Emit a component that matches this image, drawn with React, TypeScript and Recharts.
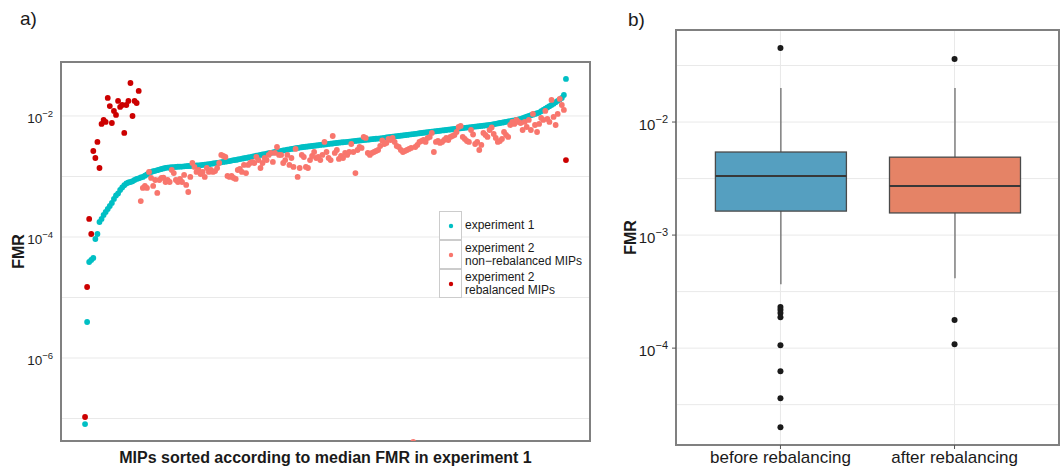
import React from 'react';
import {
  ScatterChart,
  Scatter,
  XAxis,
  YAxis,
  CartesianGrid,
  ReferenceArea,
  Legend,
  ComposedChart,
  Bar,
} from 'recharts';

const FONT = '"Liberation Sans", Arial, Helvetica, sans-serif';

// ---------------- Panel a data ----------------
// experiment 1, FMR per MIP, MIPs ranked 1..234
const exp1FMR = [
  8.1e-8, 3.94e-6, 3.86e-5, 4.17e-5, 4.5e-5, 9.27e-5, 1.12e-4, 1.77e-4, 1.99e-4, 2.31e-4,
  2.59e-4, 2.9e-4, 3.25e-4, 3.65e-4, 4.25e-4, 4.85e-4, 5.24e-4, 5.98e-4, 6.58e-4, 7.16e-4,
  7.66e-4, 7.96e-4, 8.11e-4, 8.34e-4, 8.75e-4, 9.1e-4, 9.33e-4, 9.62e-4, 9.82e-4, 1.03e-3,
  1.08e-3, 1.14e-3, 1.19e-3, 1.22e-3, 1.24e-3, 1.27e-3, 1.3e-3, 1.33e-3, 1.36e-3, 1.39e-3,
  1.4e-3, 1.41e-3, 1.42e-3, 1.43e-3, 1.44e-3, 1.45e-3, 1.45e-3, 1.46e-3, 1.47e-3, 1.48e-3,
  1.49e-3, 1.49e-3, 1.5e-3, 1.51e-3, 1.52e-3, 1.53e-3, 1.54e-3, 1.56e-3, 1.57e-3, 1.58e-3,
  1.6e-3, 1.62e-3, 1.64e-3, 1.66e-3, 1.68e-3, 1.7e-3, 1.72e-3, 1.74e-3, 1.76e-3, 1.78e-3,
  1.8e-3, 1.83e-3, 1.86e-3, 1.88e-3, 1.91e-3, 1.94e-3, 1.97e-3, 2.0e-3, 2.03e-3, 2.06e-3,
  2.09e-3, 2.13e-3, 2.16e-3, 2.2e-3, 2.24e-3, 2.27e-3, 2.31e-3, 2.35e-3, 2.39e-3, 2.43e-3,
  2.46e-3, 2.5e-3, 2.54e-3, 2.57e-3, 2.61e-3, 2.65e-3, 2.69e-3, 2.73e-3, 2.77e-3, 2.81e-3,
  2.85e-3, 2.89e-3, 2.93e-3, 2.97e-3, 3.01e-3, 3.04e-3, 3.07e-3, 3.1e-3, 3.13e-3, 3.16e-3,
  3.19e-3, 3.22e-3, 3.25e-3, 3.28e-3, 3.32e-3, 3.35e-3, 3.38e-3, 3.41e-3, 3.45e-3, 3.48e-3,
  3.51e-3, 3.55e-3, 3.58e-3, 3.62e-3, 3.65e-3, 3.68e-3, 3.71e-3, 3.74e-3, 3.77e-3, 3.8e-3,
  3.83e-3, 3.87e-3, 3.9e-3, 3.93e-3, 3.96e-3, 4.0e-3, 4.03e-3, 4.06e-3, 4.1e-3, 4.13e-3,
  4.17e-3, 4.2e-3, 4.24e-3, 4.28e-3, 4.32e-3, 4.36e-3, 4.41e-3, 4.45e-3, 4.5e-3, 4.54e-3,
  4.59e-3, 4.63e-3, 4.68e-3, 4.72e-3, 4.77e-3, 4.82e-3, 4.87e-3, 4.92e-3, 4.97e-3, 5.02e-3,
  5.07e-3, 5.12e-3, 5.18e-3, 5.23e-3, 5.28e-3, 5.33e-3, 5.38e-3, 5.43e-3, 5.49e-3, 5.54e-3,
  5.59e-3, 5.65e-3, 5.7e-3, 5.76e-3, 5.81e-3, 5.87e-3, 5.93e-3, 5.98e-3, 6.04e-3, 6.1e-3,
  6.16e-3, 6.21e-3, 6.27e-3, 6.32e-3, 6.38e-3, 6.44e-3, 6.49e-3, 6.55e-3, 6.61e-3, 6.67e-3,
  6.73e-3, 6.79e-3, 6.85e-3, 6.91e-3, 6.97e-3, 7.03e-3, 7.1e-3, 7.2e-3, 7.31e-3, 7.42e-3,
  7.53e-3, 7.65e-3, 7.76e-3, 7.88e-3, 8.0e-3, 8.12e-3, 8.24e-3, 8.36e-3, 8.49e-3, 8.62e-3,
  8.75e-3, 8.99e-3, 9.23e-3, 9.48e-3, 9.74e-3, 1.0e-2, 1.03e-2, 1.05e-2, 1.08e-2, 1.11e-2,
  1.14e-2, 1.2e-2, 1.26e-2, 1.32e-2, 1.38e-2, 1.45e-2, 1.52e-2, 1.6e-2, 1.69e-2, 1.78e-2,
  1.88e-2, 1.99e-2, 2.22e-2, 4.09e-2,
];

// experiment 2, rebalanced MIPs: ranks 1..27, plus the last ranked MIP
const exp2RebalancedFMR = [
  1.06e-7, 1.49e-5, 1.99e-4, 1.12e-4, 2.64e-3, 2.02e-3, 3.72e-3, 1.38e-3, 7.38e-3, 8.59e-3,
  7.96e-3, 1.99e-2, 1.46e-2, 7.66e-3, 1.21e-2, 1.04e-2, 1.77e-2, 1.41e-2, 1.52e-2, 5.24e-3,
  1.52e-2, 1.77e-2, 3.51e-2, 1.0e-2, 1.77e-2, 1.64e-2, 2.59e-2,
];
const exp2RebalancedLastFMR = [1.87e-3];

// experiment 2, non-rebalanced MIPs: ranks 28..233
const exp2NonRebalancedFMR = [
  3.93e-4, 6.46e-4, 6.97e-4, 6.46e-4, 1.19e-3, 9.45e-4, 6.97e-4, 8.75e-4, 5.34e-4, 8.75e-4,
  9.45e-4, 9.6e-4, 8.11e-4, 8.75e-4, 8.11e-4, 1.28e-3, 1.14e-3, 8.75e-4, 8.11e-4, 9.1e-4,
  8.11e-4, 1.06e-3, 7.24e-4, 5.54e-4, 9.82e-4, 1.67e-3, 1.44e-3, 1.19e-3, 1.28e-3, 1.1e-3,
  1.19e-3, 9.82e-4, 1.38e-3, 1.19e-3, 1.28e-3, 1.19e-3, 1.23e-3, 1.38e-3, 1.67e-3, 2.27e-3,
  2.18e-3, 2.1e-3, 1.02e-3, 9.82e-4, 1.02e-3, 9.45e-4, 9.1e-4, 1.28e-3, 1.33e-3, 1.19e-3,
  1.55e-3, 1.14e-3, 1.55e-3, 1.67e-3, 1.74e-3, 1.67e-3, 2.1e-3, 1.87e-3, 1.38e-3, 1.67e-3,
  2.02e-3, 1.87e-3, 2.27e-3, 2.45e-3, 1.74e-3, 2.45e-3, 3.07e-3, 2.27e-3, 2.27e-3, 1.67e-3,
  1.87e-3, 2.27e-3, 1.55e-3, 2.02e-3, 1.44e-3, 2.85e-3, 9.82e-4, 1.38e-3, 2.27e-3, 2.1e-3,
  1.44e-3, 1.38e-3, 1.87e-3, 2.18e-3, 2.54e-3, 2.02e-3, 2.1e-3, 1.87e-3, 2.27e-3, 3.72e-3,
  2.54e-3, 2.02e-3, 1.87e-3, 4.67e-3, 2.45e-3, 2.74e-3, 1.95e-3, 2.18e-3, 2.02e-3, 2.45e-3,
  2.27e-3, 2.54e-3, 3.44e-3, 2.54e-3, 1.14e-3, 2.74e-3, 3.07e-3, 2.96e-3, 4.5e-3, 4.33e-3,
  2.45e-3, 2.27e-3, 2.45e-3, 2.54e-3, 2.64e-3, 2.74e-3, 3.19e-3, 3.94e-3, 3.44e-3, 3.58e-3,
  4.17e-3, 4.01e-3, 4.33e-3, 3.72e-3, 3.19e-3, 3.07e-3, 2.74e-3, 2.54e-3, 2.64e-3, 2.74e-3,
  2.85e-3, 2.96e-3, 4.1e-8, 3.07e-3, 3.32e-3, 3.72e-3, 3.86e-3, 4.01e-3, 3.72e-3, 4.33e-3,
  4.5e-3, 5.24e-3, 2.54e-3, 3.72e-3, 3.86e-3, 3.58e-3, 3.72e-3, 4.01e-3, 4.33e-3, 4.01e-3,
  4.5e-3, 4.67e-3, 4.85e-3, 5.44e-3, 6.58e-3, 6.84e-3, 4.5e-3, 4.17e-3, 3.86e-3, 3.72e-3,
  5.87e-3, 4.94e-3, 3.44e-3, 3.72e-3, 2.74e-3, 3.32e-3, 5.24e-3, 4.85e-3, 4.5e-3, 5.87e-3,
  6.45e-3, 5.04e-3, 4.33e-3, 3.72e-3, 3.86e-3, 4.17e-3, 5.44e-3, 4.85e-3, 4.5e-3, 7.1e-3,
  7.96e-3, 7.38e-3, 8.59e-3, 7.96e-3, 7.66e-3, 5.87e-3, 7.96e-3, 6.58e-3, 8.59e-3, 5.87e-3,
  1.08e-2, 7.1e-3, 5.44e-3, 7.38e-3, 9.27e-3, 8.59e-3, 1.21e-2, 8.92e-3, 7.96e-3, 1.84e-2,
  9.63e-3, 7.1e-3, 1.08e-2, 1.91e-2, 1.52e-2, 1.26e-2,
];

const panelAYTicks = [1e-7, 1e-6, 1e-5, 1e-4, 1e-3, 1e-2];
const panelALabelledExponents = [-6, -4, -2];
const panelAXGridRanks = [25, 75, 125, 175, 225];
const panelAXDomain = [-10.65, 245.65];
const panelAYDomain = [4.25e-8, 7.8e-2];
const panelAXTitle = 'MIPs sorted according to median FMR in experiment 1';

const CYAN = '#00bfc4';
const SALMON = '#f8766d';
const RED = '#cc0000';
const DOT_R = 2.9;

const legendItems = [
  { lines: ['experiment 1'], color: CYAN },
  { lines: ['experiment 2', 'non\u2212rebalanced MIPs'], color: SALMON },
  { lines: ['experiment 2', 'rebalanced MIPs'], color: RED },
];

// ---------------- Panel b data ----------------
const categories = ['before rebalancing', 'after rebalancing'];
const whiskerLow = [3.68e-4, 4.16e-4];
const quartile1 = [1.63e-3, 1.57e-3];
const medians = [3.33e-3, 2.72e-3];
const quartile3 = [5.43e-3, 4.89e-3];
const whiskerHigh = [2.0e-2, 2.0e-2];
const outliersBefore = [4.52e-2, 2.31e-4, 2.18e-4, 2.04e-4, 1.88e-4, 1.06e-4, 6.25e-5, 3.61e-5, 2.0e-5];
const outliersAfter = [3.61e-2, 1.77e-4, 1.08e-4];
const boxColors = ['#559fc0', '#e58366'];

const panelBYTicks = [10 ** -4.5, 1e-4, 10 ** -3.5, 1e-3, 10 ** -2.5, 1e-2, 10 ** -1.5];
const panelBLabelledExponents = [-4, -3, -2];
const panelBYDomain = [1.39e-5, 6.52e-2];
const panelBXDomain = [0.4, 2.6];

// ---------------- derived series ----------------
const exp1Data = exp1FMR.map((fmr, i) => ({ rank: i + 1, fmr }));
const rebalancedData = [
  ...exp2RebalancedFMR.map((fmr, i) => ({ rank: i + 1, fmr })),
  ...exp2RebalancedLastFMR.map((fmr) => ({ rank: exp1FMR.length, fmr })),
];
const nonRebalancedData = exp2NonRebalancedFMR.map((fmr, i) => ({
  rank: exp2RebalancedFMR.length + 1 + i,
  fmr,
}));

const boxData = categories.map((name, i) => ({
  pos: i + 1,
  name,
  range: [whiskerLow[i], whiskerHigh[i]],
  q1: quartile1[i],
  median: medians[i],
  q3: quartile3[i],
}));
const outlierData = [
  ...outliersBefore.map((fmr) => ({ pos: 1, fmr })),
  ...outliersAfter.map((fmr) => ({ pos: 2, fmr })),
];

// ---------------- render helpers ----------------
const dotShape = (color: string, r: number) => (props: any) => {
  if (props.cx == null || props.cy == null) return <g />;
  return <circle cx={props.cx} cy={props.cy} r={r} fill={color} />;
};

function PowerTick(props: any) {
  const { x, y, payload, labelled, fontSize, supSize, baseDy, supDy, tickLen } = props;
  const e = Math.round(Math.log10(payload.value) * 2) / 2;
  if (!labelled.includes(e)) return <g />;
  return (
    <g>
      {tickLen ? (
        <line x1={x + 4} x2={x + 4 + tickLen} y1={y} y2={y} stroke="#555" strokeWidth={1} />
      ) : null}
      <text x={x} y={y + baseDy} textAnchor="end" fill="#1e1e1e" fontSize={fontSize} fontFamily={FONT}>
        <tspan>10</tspan>
        <tspan dy={supDy} fontSize={supSize}>
          {'\u2212' + Math.abs(e)}
        </tspan>
      </text>
    </g>
  );
}

function CategoryTick(props: any) {
  const { x, y, payload } = props;
  const label = categories[Math.round(payload.value) - 1];
  return (
    <text x={x} y={y} dy={12} textAnchor="middle" fill="#1a1a1a" fontSize={17} fontFamily={FONT}>
      {label}
    </text>
  );
}

function BoxShape(props: any) {
  const { x, y, width, height, payload, index } = props;
  if (!payload || height == null || !isFinite(height)) return <g />;
  const [lo, hi] = payload.range;
  const L = Math.log10;
  const toY = (v: number) => y + (height * (L(hi) - L(v))) / (L(hi) - L(lo));
  const cx = x + width / 2;
  const yq1 = toY(payload.q1);
  const yq3 = toY(payload.q3);
  const ym = toY(payload.median);
  return (
    <g>
      <line x1={cx} x2={cx} y1={y} y2={y + height} stroke="#555" strokeWidth={1.1} />
      <rect
        x={x}
        y={yq3}
        width={width}
        height={yq1 - yq3}
        fill={boxColors[index % boxColors.length]}
        stroke="#4a4a4a"
        strokeWidth={1.3}
      />
      <line x1={x} x2={x + width} y1={ym} y2={ym} stroke="#383838" strokeWidth={2} />
    </g>
  );
}

function LegendBox() {
  return (
    <div style={{ fontFamily: FONT, fontSize: 12, color: '#1a1a1a' }}>
      {legendItems.map((item, i) => (
        <div key={i} style={{ display: 'flex', alignItems: 'center', height: 29 }}>
          <div
            style={{
              width: 23,
              height: 29,
              boxSizing: 'border-box',
              border: '1.5px solid #cccccc',
              background: '#ffffff',
              display: 'flex',
              alignItems: 'center',
              justifyContent: 'center',
              flex: 'none',
            }}
          >
            <svg width={6} height={6}>
              <circle cx={3} cy={3} r={2.2} fill={item.color} />
            </svg>
          </div>
          <div style={{ marginLeft: 3, lineHeight: '12.5px', whiteSpace: 'nowrap' }}>
            {item.lines.map((l, j) => (
              <div key={j}>{l}</div>
            ))}
          </div>
        </div>
      ))}
    </div>
  );
}

export default function App() {
  return (
    <div
      style={{
        position: 'absolute',
        left: 0,
        top: 0,
        width: 1062,
        height: 471,
        background: '#ffffff',
        fontFamily: FONT,
        overflow: 'hidden',
      }}
    >
      <div style={{ position: 'absolute', left: 20, top: 9, fontSize: 19, lineHeight: '19px', color: '#1a1a1a' }}>
        a)
      </div>
      <div style={{ position: 'absolute', left: 628, top: 10, fontSize: 19, lineHeight: '19px', color: '#1a1a1a' }}>
        b)
      </div>

      {/* Panel a */}
      <div style={{ position: 'absolute', left: 0, top: 0 }}>
        <ScatterChart width={600} height={471} margin={{ top: 62, right: 10, bottom: 0, left: 11 }}>
          <CartesianGrid stroke="#e9e9e9" strokeWidth={1} />
          <XAxis
            dataKey="rank"
            type="number"
            domain={panelAXDomain}
            allowDataOverflow
            ticks={panelAXGridRanks}
            interval={0}
            tick={false}
            tickLine={false}
            axisLine={false}
            height={30}
            label={{
              value: panelAXTitle,
              position: 'insideBottom',
              offset: 8,
              fill: '#1a1a1a',
              fontSize: 16,
              fontWeight: 'bold',
              fontFamily: FONT,
            }}
          />
          <YAxis
            dataKey="fmr"
            type="number"
            scale="log"
            domain={panelAYDomain}
            allowDataOverflow
            ticks={panelAYTicks}
            interval={0}
            width={50}
            tickLine={false}
            axisLine={false}
            tickSize={6}
            tickMargin={2}
            tick={(p: any) => (
              <PowerTick {...p} labelled={panelALabelledExponents} fontSize={13.5} supSize={9.5} baseDy={7} supDy={-6} />
            )}
            label={{
              value: 'FMR',
              angle: -90,
              position: 'insideLeft',
              offset: 7.5,
              fill: '#1a1a1a',
              fontSize: 16,
              fontWeight: 'bold',
              fontFamily: FONT,
              style: { textAnchor: 'middle' },
            }}
          />
          <Scatter data={exp1Data} dataKey="fmr" shape={dotShape(CYAN, DOT_R)} isAnimationActive={false} />
          <Scatter data={nonRebalancedData} dataKey="fmr" shape={dotShape(SALMON, DOT_R)} isAnimationActive={false} />
          <Scatter data={rebalancedData} dataKey="fmr" shape={dotShape(RED, DOT_R)} isAnimationActive={false} />
          <ReferenceArea
            x1={panelAXDomain[0]}
            x2={panelAXDomain[1]}
            y1={panelAYDomain[0]}
            y2={panelAYDomain[1]}
            fill="none"
            fillOpacity={0}
            stroke="#808080"
            strokeWidth={2}
          />
          <Legend
            layout="vertical"
            verticalAlign="middle"
            align="center"
            wrapperStyle={{ left: 439, top: 211, width: 160, height: 87 }}
            content={() => <LegendBox />}
          />
        </ScatterChart>
      </div>

      {/* Panel b */}
      <div style={{ position: 'absolute', left: 600, top: 0 }}>
        <ComposedChart width={462} height={471} data={boxData} margin={{ top: 30, right: 3, bottom: 0, left: 16 }}>
          <CartesianGrid stroke="#e9e9e9" strokeWidth={1} />
          <XAxis
            dataKey="pos"
            type="number"
            domain={panelBXDomain}
            allowDataOverflow
            ticks={[1, 2]}
            interval={0}
            height={26}
            tickSize={4}
            tickMargin={2}
            tickLine={{ stroke: '#555' }}
            axisLine={false}
            tick={(p: any) => <CategoryTick {...p} />}
          />
          <YAxis
            type="number"
            scale="log"
            domain={panelBYDomain}
            allowDataOverflow
            ticks={panelBYTicks}
            interval={0}
            width={60}
            tickLine={false}
            axisLine={false}
            tickSize={4}
            tickMargin={4}
            tick={(p: any) => (
              <PowerTick
                {...p}
                labelled={panelBLabelledExponents}
                fontSize={15}
                supSize={11}
                baseDy={8}
                supDy={-7.5}
                tickLen={4}
              />
            )}
            label={{
              value: 'FMR',
              angle: -90,
              position: 'insideLeft',
              offset: 14,
              fill: '#1a1a1a',
              fontSize: 16,
              fontWeight: 'bold',
              fontFamily: FONT,
              style: { textAnchor: 'middle' },
            }}
          />
          <Bar dataKey="range" barSize={131} shape={(p: any) => <BoxShape {...p} />} isAnimationActive={false} />
          <Scatter data={outlierData} dataKey="fmr" shape={dotShape('#1a1a1a', 3)} isAnimationActive={false} />
          <ReferenceArea
            x1={panelBXDomain[0]}
            x2={panelBXDomain[1]}
            y1={panelBYDomain[0]}
            y2={panelBYDomain[1]}
            fill="none"
            fillOpacity={0}
            stroke="#808080"
            strokeWidth={2}
          />
        </ComposedChart>
      </div>
    </div>
  );
}
